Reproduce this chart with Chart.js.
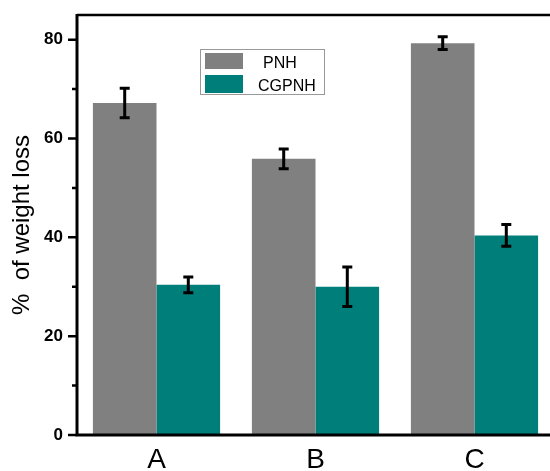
<!DOCTYPE html>
<html>
<head>
<meta charset="utf-8">
<script src="https://cdn.jsdelivr.net/npm/chart.js@4"></script>
<style>
    html, body { margin: 0; padding: 0; background: #fff; overflow: hidden; }
    #wrap { width: 550px; height: 471px; overflow: hidden; }
    #box { width: 560px; height: 471px; }
</style>
</head>
<body>
<div id="wrap"><div id="box"><canvas id="chart"></canvas></div></div>
<script>
// Werte
const categories = ['A', 'B', 'C'];
const seriesLabels = ['PNH', 'CGPNH'];
const pnhValues = [67.2, 55.9, 79.3];
const pnhErrors = [3.0, 2.0, 1.3];
const cgpnhValues = [30.4, 30.0, 40.4];
const cgpnhErrors = [1.6, 4.0, 2.2];
const yMajorTicks = [0, 20, 40, 60, 80];
const yMinorTicks = [10, 30, 50, 70];

const GRAY = '#808080';
const TEAL = '#007f7a';

// Rahmen und Achsenstriche (nach den Balken, damit die Linien oben liegen)
const framePlugin = {
    id: 'frame',
    afterDatasetsDraw(chart) {
        const ctx = chart.ctx;
        const a = chart.chartArea;
        const y = chart.scales.y;
        ctx.save();
        ctx.strokeStyle = '#000';
        ctx.lineCap = 'butt';

        ctx.lineWidth = 2.5;
        ctx.beginPath();
        ctx.moveTo(a.left, a.top);
        ctx.lineTo(a.right + 10, a.top);
        ctx.stroke();

        ctx.lineWidth = 3;
        ctx.beginPath();
        ctx.moveTo(a.left, a.top - 1);
        ctx.lineTo(a.left, a.bottom + 1.5);
        ctx.moveTo(a.left - 1.5, a.bottom);
        ctx.lineTo(a.right + 10, a.bottom);
        ctx.stroke();

        ctx.lineWidth = 2.5;
        ctx.beginPath();
        yMajorTicks.forEach(v => {
            const py = y.getPixelForValue(v);
            ctx.moveTo(a.left - 9, py);
            ctx.lineTo(a.left, py);
        });
        yMinorTicks.forEach(v => {
            const py = y.getPixelForValue(v);
            ctx.moveTo(a.left - 5, py);
            ctx.lineTo(a.left, py);
        });
        ctx.stroke();
        ctx.restore();
    }
};

// Fehlerbalken
const errorBarPlugin = {
    id: 'errorBars',
    afterDatasetsDraw(chart) {
        const ctx = chart.ctx;
        const y = chart.scales.y;
        ctx.save();
        ctx.strokeStyle = '#000';
        ctx.lineWidth = 3;
        chart.data.datasets.forEach((ds, di) => {
            const meta = chart.getDatasetMeta(di);
            meta.data.forEach((bar, i) => {
                const v = ds.data[i];
                const e = ds.errors[i];
                const top = y.getPixelForValue(v + e);
                const bot = y.getPixelForValue(v - e);
                const cap = 5;
                ctx.beginPath();
                ctx.moveTo(bar.x, top);
                ctx.lineTo(bar.x, bot);
                ctx.moveTo(bar.x - cap, top);
                ctx.lineTo(bar.x + cap, top);
                ctx.moveTo(bar.x - cap, bot);
                ctx.lineTo(bar.x + cap, bot);
                ctx.stroke();
            });
        });
        ctx.restore();
    }
};

// Legende im Diagramm mit Rahmen
const boxLegendPlugin = {
    id: 'boxLegend',
    afterDraw(chart) {
        const ctx = chart.ctx;
        const a = chart.chartArea;
        const x0 = a.left + 123;
        const y0 = a.top + 34;
        ctx.save();
        ctx.strokeStyle = '#999';
        ctx.lineWidth = 1;
        ctx.strokeRect(x0 + 0.5, y0 + 0.5, 124, 45);
        ctx.font = '16px "Liberation Sans", Arial, sans-serif';
        ctx.textBaseline = 'alphabetic';
        ctx.fillStyle = '#000';
        chart.data.datasets.forEach((ds, i) => {
            const sy = y0 + 4 + i * 22;
            ctx.fillStyle = ds.backgroundColor;
            ctx.fillRect(x0 + 5, sy, 38, i === 0 ? 16 : 18);
            ctx.fillStyle = '#000';
            ctx.fillText(ds.label, x0 + (i === 0 ? 63 : 58), sy + 15 + i * 1);
        });
        ctx.restore();
    }
};

const ctx = document.getElementById('chart').getContext('2d');
new Chart(ctx, {
    type: 'bar',
    data: {
        labels: categories,
        datasets: [
            {
                label: seriesLabels[0],
                data: pnhValues,
                errors: pnhErrors,
                backgroundColor: GRAY
            },
            {
                label: seriesLabels[1],
                data: cgpnhValues,
                errors: cgpnhErrors,
                backgroundColor: TEAL
            }
        ]
    },
    options: {
        responsive: true,
        maintainAspectRatio: false,
        animation: false,
        layout: { padding: { left: 0, top: 15, right: 6, bottom: 0 } },
        datasets: {
            bar: { categoryPercentage: 0.8, barPercentage: 1.0, borderWidth: 0 }
        },
        plugins: {
            legend: { display: false },
            tooltip: { enabled: false }
        },
        scales: {
            x: {
                grid: { display: false, drawTicks: false },
                border: { display: false },
                ticks: {
                    color: '#000',
                    padding: 8,
                    font: { family: '"Liberation Sans", Arial, sans-serif', size: 28 }
                },
                afterFit(scale) { scale.height = 36; }
            },
            y: {
                min: 0,
                max: 85,
                // Striche zeichnet das Plugin, tickLength hält nur den Abstand der Zahlen
                grid: { display: false, drawTicks: true, tickLength: 14 },
                border: { display: false },
                afterBuildTicks(scale) {
                    scale.ticks = yMajorTicks.map(v => ({ value: v }));
                },
                ticks: {
                    color: '#000',
                    padding: 0,
                    font: { family: '"Liberation Sans", Arial, sans-serif', size: 17, weight: 'bold' }
                },
                title: {
                    display: true,
                    text: '%  of weight loss',
                    color: '#000',
                    padding: { top: 8, bottom: 0 },
                    font: { family: '"Liberation Sans", Arial, sans-serif', size: 24 }
                },
                afterFit(scale) { scale.width = 77; }
            }
        }
    },
    plugins: [framePlugin, errorBarPlugin, boxLegendPlugin]
});
</script>
</body>
</html>
